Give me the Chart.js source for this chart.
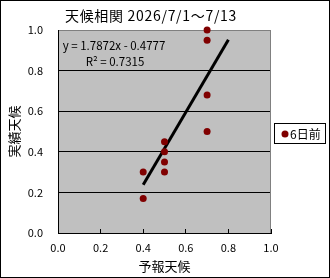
<!DOCTYPE html>
<html><head><meta charset="utf-8">
<script src="https://cdn.jsdelivr.net/npm/chart.js@4"></script>
<style>html,body{margin:0;padding:0;background:#fff}#wrap{width:330px;height:278px;position:relative}</style>
</head><body><div id="wrap"><canvas id="c" width="330" height="278"></canvas></div>
<script>
const titleText = '天候相関 2026/7/1～7/13';
const xAxisTitle = '予報天候';
const yAxisTitle = '実績天候';
const seriesLabel = '6日前';
const forecastX = [0.4, 0.4, 0.5, 0.5, 0.5, 0.5, 0.7, 0.7, 0.7, 0.7];
const actualY   = [0.30, 0.17, 0.45, 0.40, 0.35, 0.30, 1.00, 0.95, 0.68, 0.50];
const trendSlope = 1.7872;
const trendIntercept = -0.4777;
const trendRange = [0.4, 0.8];
const rSquared = 0.7315;
const axisMin = 0, axisMax = 1, axisStep = 0.2;

const FONT = '"Noto Sans CJK JP", sans-serif';
const POINT_COLOR = '#800000';
Chart.defaults.font.family = FONT;
Chart.defaults.color = '#000';

const points = forecastX.map((x, i) => ({x, y: actualY[i]}));
const trend = trendRange.map(x => ({x, y: trendSlope * x + trendIntercept}));
const eqText = 'y = ' + trendSlope.toFixed(4) + 'x - ' + Math.abs(trendIntercept).toFixed(4);
const r2Text = 'R² = ' + rSquared.toFixed(4);

const deco = {
  id: 'deco',
  beforeDraw(chart) {
    const {ctx, chartArea: a} = chart;
    ctx.save();
    ctx.fillStyle = '#fff';
    ctx.fillRect(0, 0, chart.width, chart.height);
    ctx.fillStyle = '#C0C0C0';
    ctx.fillRect(a.left, a.top, a.right - a.left, a.bottom - a.top);
    ctx.restore();
  },
  beforeDatasetsDraw(chart) {
    const {ctx, chartArea: a} = chart;
    ctx.save();
    ctx.strokeStyle = '#808080';
    ctx.lineWidth = 1;
    ctx.beginPath();
    ctx.moveTo(Math.round(a.right) - 0.5, a.top);
    ctx.lineTo(Math.round(a.right) - 0.5, a.bottom);
    ctx.stroke();
    ctx.restore();
  },
  afterDraw(chart) {
    const {ctx, chartArea: a} = chart;
    ctx.save();
    // title
    ctx.fillStyle = '#000';
    ctx.font = '14px ' + FONT;
    ctx.textAlign = 'center';
    ctx.textBaseline = 'middle';
    try { ctx.letterSpacing = '0.7px'; } catch (e) {}
    ctx.fillText(titleText, 151, 16);
    try { ctx.letterSpacing = '0px'; } catch (e) {}
    // equation
    ctx.font = '11.5px ' + FONT;
    ctx.fillText(eqText, a.left + 56, a.top + 15.5);
    ctx.fillText(r2Text, a.left + 57, a.top + 31.5);
    // legend
    const lx = Math.round(a.right) + 3, ly = 123;
    ctx.fillStyle = '#fff';
    ctx.fillRect(lx, ly, 51, 20);
    ctx.strokeStyle = '#000';
    ctx.lineWidth = 1;
    ctx.strokeRect(lx + 0.5, ly + 0.5, 51, 20);
    ctx.fillStyle = POINT_COLOR;
    ctx.beginPath();
    ctx.arc(lx + 11, ly + 11, 3.5, 0, Math.PI * 2);
    ctx.fill();
    ctx.fillStyle = '#000';
    ctx.font = '12px ' + FONT;
    ctx.textAlign = 'left';
    ctx.fillText(chart.data.datasets[0].label, lx + 16, ly + 11);
    // outer border
    ctx.strokeStyle = '#000';
    ctx.strokeRect(0.5, 0.5, 329, 277);
    ctx.restore();
  }
};

new Chart(document.getElementById('c'), {
  type: 'scatter',
  data: {
    datasets: [
      {
        label: seriesLabel,
        data: points,
        backgroundColor: POINT_COLOR,
        borderColor: POINT_COLOR,
        pointRadius: 3.5,
        pointHoverRadius: 3.5,
        borderWidth: 0,
        clip: false,
        order: 1
      },
      {
        label: 'trend',
        type: 'line',
        data: trend,
        borderColor: '#000',
        borderWidth: 3,
        pointRadius: 0,
        fill: false,
        order: 2
      }
    ]
  },
  options: {
    responsive: false,
    animation: false,
    devicePixelRatio: 1,
    layout: {padding: {top: 30, right: 59, left: 0, bottom: 0}},
    plugins: {legend: {display: false}, title: {display: false}, tooltip: {enabled: false}},
    scales: {
      x: {
        type: 'linear', min: axisMin, max: axisMax,
        afterFit(s) { s.height = 45; },
        ticks: {stepSize: axisStep, padding: 12, font: {size: 11}, callback: v => v.toFixed(1), maxRotation: 0},
        grid: {drawOnChartArea: false, drawTicks: true, tickLength: -4, color: '#000'},
        border: {color: '#000', width: 1},
        title: {display: true, text: xAxisTitle, font: {size: 13}, padding: {top: 0, bottom: 4}}
      },
      y: {
        type: 'linear', min: axisMin, max: axisMax,
        afterFit(s) { s.width = 58; },
        ticks: {stepSize: axisStep, padding: 15, font: {size: 11}, callback: v => v.toFixed(1)},
        grid: {drawTicks: false, color: c => (c.tick && c.tick.value === 1 ? '#808080' : '#000')},
        border: {color: '#000', width: 1},
        title: {display: true, text: yAxisTitle, font: {size: 13}, padding: {top: 6, bottom: 0}}
      }
    }
  },
  plugins: [deco]
});
</script></body></html>
